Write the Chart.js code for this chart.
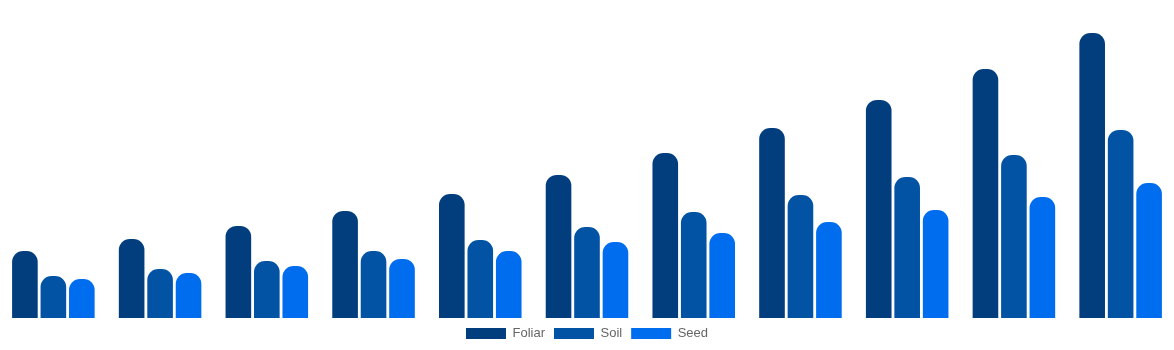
<!DOCTYPE html>
<html>
<head>
<meta charset="utf-8">
<script src="https://cdn.jsdelivr.net/npm/chart.js@4"></script>
<style>
  html, body { margin: 0; padding: 0; background: #ffffff; }
  #wrap { width: 1174px; height: 350px; }
</style>
</head>
<body>
<div id="wrap"><canvas id="appChart"></canvas></div>
<script>
// Categories (axis hidden in the reference)
const years = ['2020', '2021', '2022', '2023', '2024', '2025', '2026', '2027', '2028', '2029', '2030'];

// Series values
const foliar = [2.23, 2.63, 3.07, 3.57, 4.13, 4.77, 5.50, 6.33, 7.27, 8.30, 9.50];
const soil = [1.40, 1.63, 1.90, 2.23, 2.60, 3.03, 3.53, 4.10, 4.70, 5.43, 6.27];
const seed = [1.30, 1.50, 1.73, 1.97, 2.23, 2.53, 2.83, 3.20, 3.60, 4.03, 4.50];

const colors = {
    foliar: '#023E7D',
    soil: '#0353A4',
    seed: '#006DEF'
};

Chart.defaults.font.family = "'Liberation Sans', Arial, sans-serif";
Chart.defaults.font.size = 12;
Chart.defaults.color = '#666666';

function barSet(label, data, color) {
    return {
        label: label,
        data: data,
        backgroundColor: color,
        borderColor: color,
        borderWidth: 0,
        borderRadius: { topLeft: 11, topRight: 11, bottomLeft: 0, bottomRight: 0 },
        borderSkipped: false
    };
}

const ctx = document.getElementById('appChart').getContext('2d');
new Chart(ctx, {
    type: 'bar',
    data: {
        labels: years,
        datasets: [
            barSet('Foliar', foliar, colors.foliar),
            barSet('Soil', soil, colors.soil),
            barSet('Seed', seed, colors.seed)
        ]
    },
    options: {
        responsive: true,
        maintainAspectRatio: false,
        animation: false,
        plugins: {
            legend: {
                position: 'bottom',
                labels: {
                    boxWidth: 40,
                    boxHeight: 11,
                    padding: 9,
                    font: { size: 13 }
                }
            },
            tooltip: { enabled: false }
        },
        scales: {
            x: { display: false },
            y: { display: false, min: 0, max: 10.6 }
        }
    }
});
</script>
</body>
</html>
